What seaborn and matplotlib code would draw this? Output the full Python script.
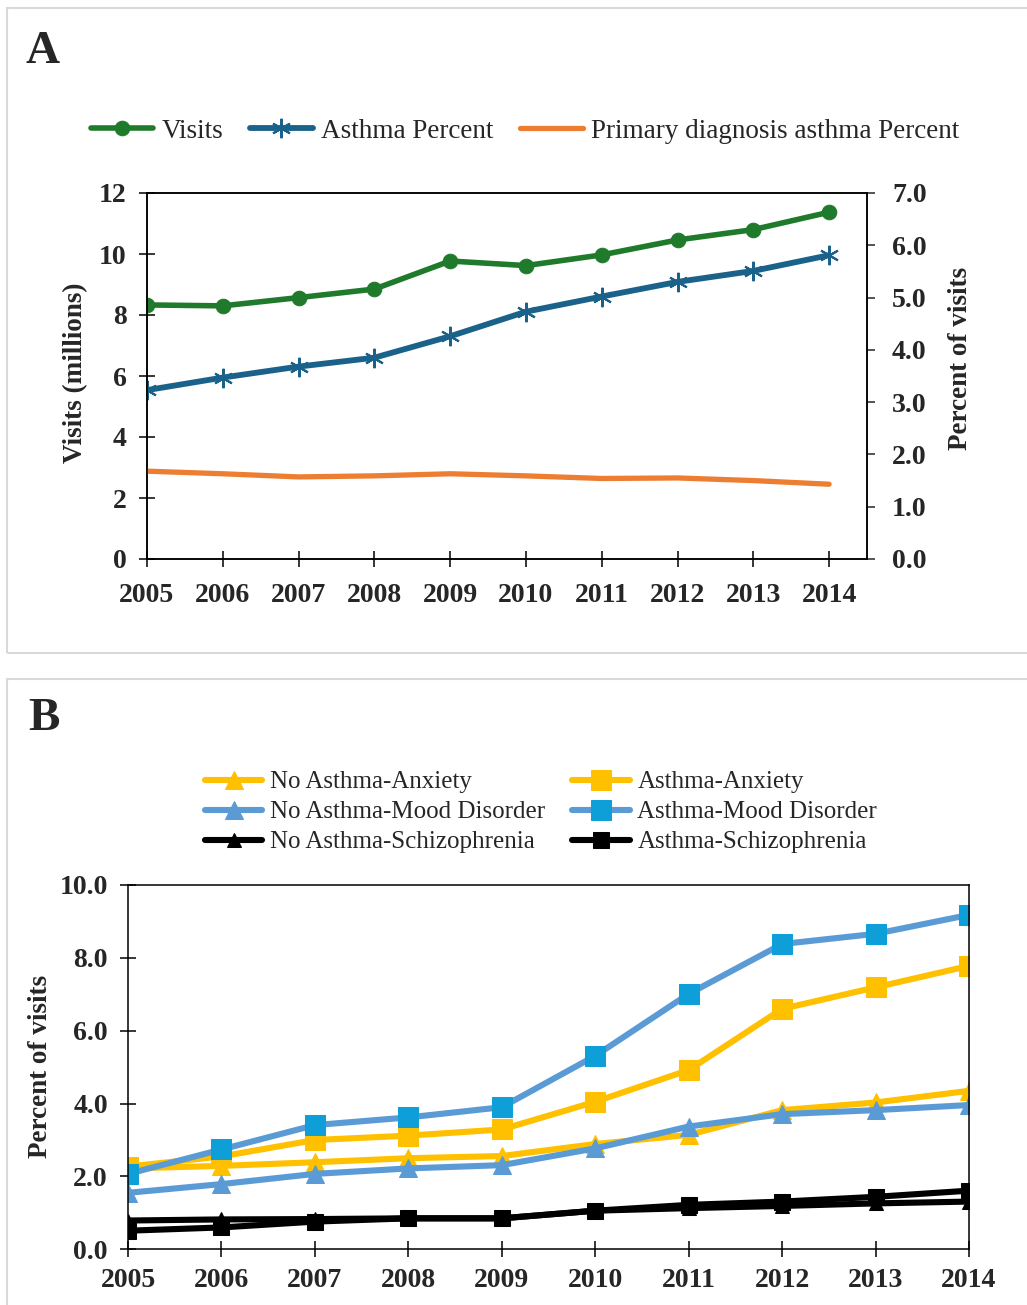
import matplotlib
matplotlib.use('Agg')
from matplotlib import pyplot as plt
from matplotlib.patches import Rectangle
import seaborn as sns

sns.set_style('ticks')
plt.rcParams['font.family'] = ['Liberation Serif', 'DejaVu Serif']

years = [2005, 2006, 2007, 2008, 2009, 2010, 2011, 2012, 2013, 2014]

# panel A
visits = [8.33, 8.30, 8.57, 8.85, 9.77, 9.62, 9.97, 10.46, 10.80, 11.37]
asthma_pct = [3.23, 3.47, 3.68, 3.85, 4.26, 4.73, 5.02, 5.30, 5.51, 5.81]
primary_pct = [1.68, 1.63, 1.57, 1.59, 1.63, 1.59, 1.54, 1.55, 1.50, 1.43]

# panel B
no_anx = [2.22, 2.29, 2.39, 2.50, 2.56, 2.89, 3.14, 3.82, 4.03, 4.35]
no_mood = [1.55, 1.79, 2.07, 2.22, 2.31, 2.77, 3.37, 3.71, 3.82, 3.96]
no_schiz = [0.79, 0.82, 0.83, 0.85, 0.85, 1.06, 1.13, 1.19, 1.26, 1.31]
anx = [2.27, 2.55, 3.00, 3.12, 3.29, 4.05, 4.92, 6.60, 7.19, 7.78]
mood = [2.07, 2.74, 3.41, 3.62, 3.90, 5.31, 7.01, 8.38, 8.66, 9.18]
schiz = [0.51, 0.60, 0.76, 0.85, 0.85, 1.06, 1.22, 1.31, 1.44, 1.61]

W, H = 1027, 1305
fig = plt.figure(figsize=(W / 100, H / 100), dpi=100)

# grey frames round the two panels
for y0, y1 in [(8, 653), (679, 1320)]:
    fig.patches.append(Rectangle((7 / W, 1 - y1 / H), 1.1, (y1 - y0) / H,
                                 transform=fig.transFigure, fill=False,
                                 edgecolor='#d9d9d9', lw=1.5, zorder=0))

fig.text(26 / W, 1 - 63 / H, 'A', fontsize=34, fontweight='bold')
fig.text(28 / W, 1 - 730 / H, 'B', fontsize=34, fontweight='bold')

tick_font = dict(fontsize=20, fontweight='bold')

# ---------------- panel A ----------------
ax = fig.add_axes([147 / W, 1 - 559 / H, 720 / W, 366 / H])
ax2 = ax.twinx()

sns.lineplot(x=years, y=visits, ax=ax, color='#1f7a2c', lw=4.0, marker='o',
             markersize=10.5, markeredgecolor='#1f7a2c', legend=False)
sns.lineplot(x=years, y=asthma_pct, ax=ax2, color='#1b628a', lw=4.2,
             marker=(6, 2, 0), markersize=14, markeredgewidth=1.5,
             markeredgecolor='#1b628a', legend=False)
sns.lineplot(x=years, y=primary_pct, ax=ax2, color='#ed7d31', lw=3.8,
             legend=False)

ax.set_xlim(2005, 2014.5)
ax.set_ylim(0, 12)
ax2.set_ylim(0, 7)
ax.set_xticks(years)
ax.set_xticklabels([str(y) for y in years], **tick_font)
ax.set_yticks(range(0, 13, 2))
ax.set_yticklabels([str(v) for v in range(0, 13, 2)], **tick_font)
ax2.set_yticks(range(0, 8))
ax2.set_yticklabels(['%.1f' % v for v in range(0, 8)], **tick_font)
ax.tick_params(axis='both', direction='inout', length=11, width=1.1,
               color='black')
ax.tick_params(axis='x', pad=12)
ax.tick_params(axis='y', pad=9)
ax2.tick_params(axis='y', direction='out', length=6, width=1.1, pad=12)
for a in (ax, ax2):
    for s in a.spines.values():
        s.set_linewidth(1.1)
        s.set_color('black')
ax.set_ylabel('Visits (millions)', fontsize=19.5, fontweight='bold')
ax.yaxis.set_label_coords(-0.082, 0.508)
ax2.set_ylabel('Percent of visits', fontsize=19.5, fontweight='bold')
ax2.yaxis.set_label_coords(1.112, 0.548)

hA = [ax.lines[0], ax2.lines[0], ax2.lines[1]]
fig.legend(hA, ['Visits', 'Asthma Percent', 'Primary diagnosis asthma Percent'],
           loc='center', bbox_to_anchor=(525 / W, 1 - 131 / H), ncol=3,
           frameon=False, fontsize=19.5, handlelength=2.3, handletextpad=0.3,
           columnspacing=1.0, numpoints=1)

# ---------------- panel B ----------------
bx = fig.add_axes([128 / W, 1 - 1249.3 / H, 841 / W, 364.3 / H])

yellow, lblue, cyan = '#ffc000', '#5b9bd5', '#0e9fd8'
series = [
    (no_anx, yellow, yellow, '^', 12.5, 'No Asthma-Anxiety'),
    (no_mood, lblue, lblue, '^', 12.5, 'No Asthma-Mood Disorder'),
    (no_schiz, 'black', 'black', '^', 10, 'No Asthma-Schizophrenia'),
    (anx, yellow, yellow, 's', 14, 'Asthma-Anxiety'),
    (mood, lblue, cyan, 's', 14.5, 'Asthma-Mood Disorder'),
    (schiz, 'black', 'black', 's', 11, 'Asthma-Schizophrenia'),
]
for vals, lc, mc, mk, ms, lab in series:
    sns.lineplot(x=years, y=vals, ax=bx, color=lc, lw=4.4, marker=mk,
                 markersize=ms, markerfacecolor=mc, markeredgecolor=mc,
                 legend=False)

bx.set_xlim(2005, 2014)
bx.set_ylim(0, 10)
bx.set_xticks(years)
bx.set_xticklabels([str(y) for y in years], **tick_font)
bx.set_yticks(range(0, 11, 2))
bx.set_yticklabels(['%.1f' % v for v in range(0, 11, 2)], **tick_font)
bx.tick_params(axis='both', direction='inout', length=11, width=1.1,
               color='black')
bx.tick_params(axis='x', pad=8)
bx.tick_params(axis='y', pad=9)
for s in bx.spines.values():
    s.set_linewidth(1.1)
    s.set_color('black')
bx.set_ylabel('Percent of visits', fontsize=19.5, fontweight='bold')
bx.yaxis.set_label_coords(-0.089, 0.503)

fig.legend(bx.lines, [s[-1] for s in series], loc='center',
           bbox_to_anchor=(541 / W, 1 - 812 / H), ncol=2, frameon=False,
           fontsize=18, handlelength=2.3, handletextpad=0.3,
           columnspacing=1.1, labelspacing=0.3, numpoints=1)

fig.savefig('out.png', dpi=100)
